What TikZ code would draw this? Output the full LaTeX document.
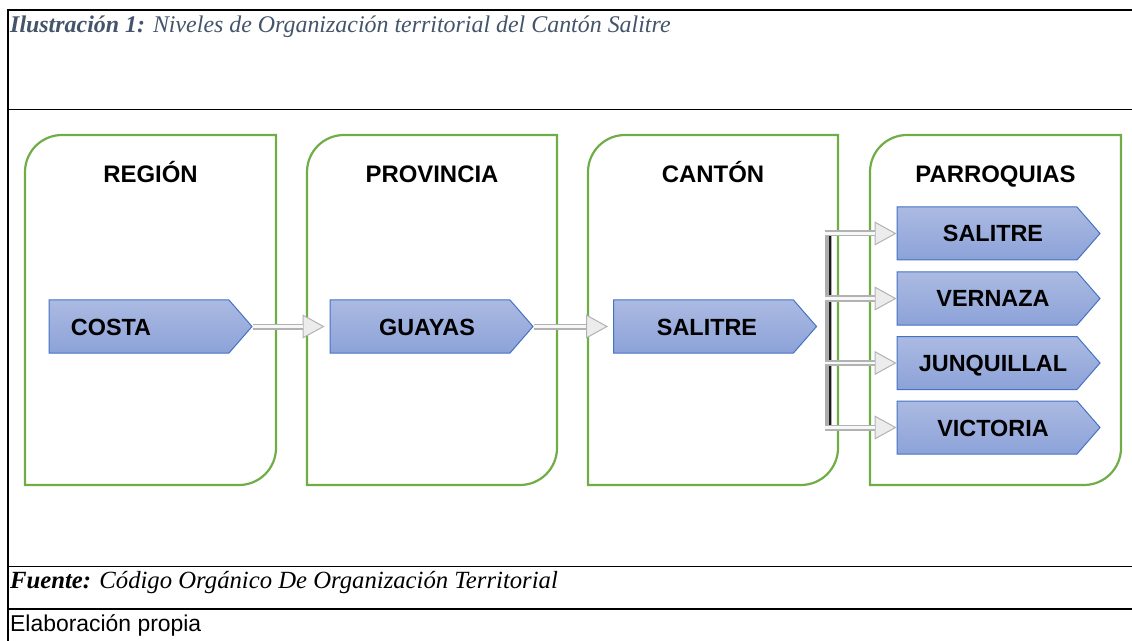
\documentclass[tikz,border=0pt]{standalone}
\usepackage{fontspec}
\setmainfont{Liberation Serif}
\setsansfont{Liberation Sans}
\usetikzlibrary{shapes.symbols,arrows.meta}
\definecolor{grn}{HTML}{70AD47}
\definecolor{bord}{HTML}{4472C4}
\definecolor{ftop}{HTML}{ABBAE2}
\definecolor{fbot}{HTML}{8CA2D8}
\definecolor{ttl}{HTML}{44546A}
\begin{document}
\begin{tikzpicture}[x=1bp,y=-1bp,
  rule/.style={line width=1.8bp, black},
  colbox/.style={draw=grn, line width=2.2bp},
  head/.style={anchor=base, font=\sffamily\bfseries\fontsize{24}{28}\selectfont, text=black},
  chev/.style={shape=signal, signal to=east, signal pointer angle=98, draw=bord, line width=1bp,
    top color=ftop, bottom color=fbot, minimum width=203bp, minimum height=53bp, inner sep=0pt,
    text height=17bp, text depth=0bp,
    font=\sffamily\bfseries\fontsize{23.5}{27}\selectfont},
  conn/.style={line width=6bp, draw=gray!60, -{Triangle[length=22bp,width=24bp,line width=1bp,fill=gray!15]}},
  connin/.style={line width=2.5bp, draw=gray!6, shorten >=22bp},
]
\useasboundingbox (0,0) rectangle (1132,641);
% table rules
\draw[rule] (7,10) -- (1132,10);
\draw[rule] (8,109.5) -- (1132,109.5);
\draw[rule] (8,566.5) -- (1132,566.5);
\draw[rule] (8,609) -- (1132,609);
\draw[rule] (8,9) -- (8,641);
% captions
\node[anchor=west, inner sep=0pt, text=ttl, font=\fontsize{24}{28}\selectfont\itshape] (title) at (10,27)
  {\textbf{Ilustración 1:} Niveles de Organización territorial del Cantón Salitre};
\node[anchor=west, inner sep=0pt, font=\fontsize{24.8}{28}\selectfont\itshape] (fuente) at (10,583)
  {\textbf{Fuente:} Código Orgánico De Organización Territorial};
\node[anchor=west, inner sep=0pt, font=\sffamily\fontsize{23}{26}\selectfont] (elab) at (10,625)
  {Elaboración propia};
% columns
\foreach \xa/\xb in {25/276, 307/557, 588/838, 870/1121}{
  \draw[colbox] (\xa,485) -- (\xa,172) arc[start angle=180, end angle=270, radius=37]
    -- (\xb,135) -- (\xb,448) arc[start angle=0, end angle=90, radius=37] -- cycle;
}
\node[head] (hreg) at (150.5,183) {REGIÓN};
\node[head] (hprov) at (432,183) {PROVINCIA};
\node[head] (hcant) at (713,183) {CANTÓN};
\node[head] (hparr) at (995.5,183) {PARROQUIAS};
% chevrons
\node[chev] (costa) at (139,326.5) {COSTA\kern56bp};
\node[chev] (guayas) at (420,326.5) {\kern14bp GUAYAS};
\node[chev] (salitre) at (703.5,326.5) {\kern7bp SALITRE};
\node[chev] (p1) at (987,233.5) {\kern12bp SALITRE};
\node[chev] (p2) at (987,298.5) {\kern12bp VERNAZA};
\node[chev] (p3) at (987,363) {\kern12bp JUNQUILLAL};
\node[chev] (p4) at (987,427.5) {\kern12bp VICTORIA};
% arrows
\draw[conn, shorten >=5bp] (costa.east) -- (guayas.west);
\draw[connin, shorten >=27bp] (costa.east) -- (guayas.west);
\draw[conn, shorten >=5bp] (guayas.east) -- (salitre.west);
\draw[connin, shorten >=27bp] (guayas.east) -- (salitre.west);
% bracket
\coordinate (brt) at (828.5,231);
\coordinate (brb) at (828.5,431);
\draw[line width=7bp, draw=gray!65] (brt) -- (brb);
\draw[line width=2bp, draw=gray!20!black] ([xshift=1.5bp]brt) -- ([xshift=1.5bp]brb);
\foreach \i/\yy in {1/233.5, 2/298.5, 3/363, 4/427.5}{
  \coordinate (b\i) at (825,\yy);
  \draw[conn] (b\i) -- (p\i.west);
  \draw[connin] (b\i) -- (p\i.west);
}
\end{tikzpicture}
\end{document}
